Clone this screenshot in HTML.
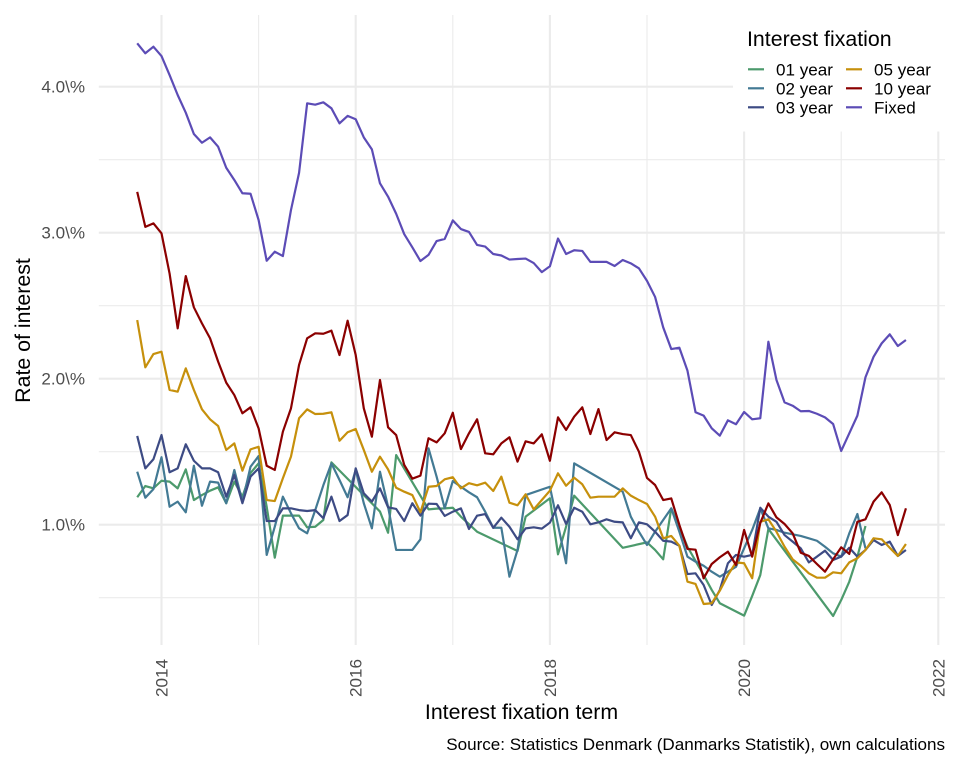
<!DOCTYPE html>
<html lang="en">
<head>
<meta charset="utf-8">
<title>Rate of interest by interest fixation</title>
<style>
html,body{margin:0;padding:0;background:#fff;}
#chart{display:block;width:960px;height:768px;font-family:"Liberation Sans",Arial,sans-serif;}
.grid-major{stroke:#ebebeb;stroke-width:2.1;}
.grid-minor{stroke:#ebebeb;stroke-width:1.05;}
.tick{fill:#4d4d4d;font-size:17.07px;}
.series{fill:none;stroke-width:2.2;stroke-linejoin:round;stroke-linecap:butt;}
.legend-label{fill:#000;font-size:17.07px;}
</style>
</head>
<body>
<svg id="chart" xmlns="http://www.w3.org/2000/svg" width="960" height="768" viewBox="0 0 960 768">
  <g id="grid"></g>
  <g id="series"></g>
  <g id="y-ticks"></g>
  <g id="x-ticks"></g>
  <text transform="translate(30,330.5) rotate(-90)" text-anchor="middle" font-size="21.33" fill="#000">Rate of interest</text>
  <text x="521.5" y="719" text-anchor="middle" font-size="21.33" fill="#000">Interest fixation term</text>
  <text x="945" y="750" text-anchor="end" font-size="17.07" fill="#000">Source: Statistics Denmark (Danmarks Statistik), own calculations</text>
  <g id="legend">
    <rect x="733" y="15" width="212" height="116.5" fill="#fff"></rect>
    <text x="747" y="46" font-size="21.33" fill="#000">Interest fixation</text>
  </g>
</svg>
<script>
// Month index 0 = Oct 2013, one value per month (null = no observation).
var startYear = 2013.75;
var seriesNames = ["01 year", "02 year", "03 year", "05 year", "10 year", "Fixed"];
var seriesColors = ["#4c9a6c", "#437a94", "#3d4b84", "#c6900c", "#8b0000", "#5c4cb6"];

var oneYear = [1.188,1.265,1.249,1.301,1.295,1.249,1.379,1.169,1.203,1.233,
  1.256,1.147,1.295,1.192,1.354,1.42,1.123,0.774,1.062,1.062,
  1.062,0.982,0.986,1.032,1.427,null,null,null,null,null,
  1.09,0.945,1.477,null,null,null,1.105,1.11,1.112,1.116,
  1.055,null,0.952,null,null,null,null,0.82,1.055,null,
  null,1.181,0.797,0.986,1.199,null,null,null,null,null,
  0.842,null,null,0.879,0.827,0.763,1.112,0.986,0.849,null,
  0.655,0.553,0.462,null,null,0.377,0.512,0.655,0.971,null,
  null,null,null,null,null,null,0.375,0.484,0.61,0.781,
  0.991,null,null,null,null,null];

var twoYear = [1.363,1.185,1.244,1.462,1.123,1.158,1.085,1.404,1.13,1.295,
  1.288,1.147,1.375,1.158,1.397,1.47,0.793,0.986,1.192,1.078,
  0.975,0.941,1.1,1.27,1.42,1.306,1.188,1.375,1.147,0.975,
  1.363,1.123,0.827,0.827,0.827,0.9,1.523,1.329,1.112,1.299,
  1.26,1.222,1.188,1.089,0.979,0.979,0.644,0.827,1.203,null,
  null,1.26,0.998,0.736,1.42,null,null,null,null,null,
  1.226,1.055,0.952,0.861,0.952,1.032,1.112,0.952,0.781,0.747,
  0.719,0.678,0.644,0.678,0.712,0.838,0.964,1.112,0.975,0.964,
  0.945,0.934,0.923,0.907,0.89,0.849,0.804,0.781,0.941,1.073,
  0.838,null,null,null,null,null];

var threeYear = [1.608,1.386,1.448,1.614,1.359,1.386,1.551,1.438,1.386,1.386,
  1.359,1.192,1.34,1.147,1.329,1.386,1.025,1.025,1.112,1.112,
  1.1,1.094,1.1,1.044,1.192,1.025,1.066,1.386,1.215,1.158,
  1.249,1.119,1.108,1.025,1.147,1.062,1.144,1.142,1.06,1.089,
  1.112,0.971,1.062,1.073,0.979,1.048,0.986,0.9,0.975,0.982,
  0.973,1.014,1.133,1.005,1.116,1.089,1.003,1.016,1.037,1.02,
  1.016,0.907,1.016,1.003,0.952,0.89,0.884,0.856,0.662,0.667,
  0.587,0.45,0.553,0.736,0.793,0.781,0.793,1.116,1.055,1.02,
  0.929,0.884,0.838,0.742,0.781,0.822,0.758,0.781,0.842,0.781,
  0.827,0.895,0.861,0.884,0.786,0.827];

var fiveYear = [2.402,2.078,2.169,2.185,1.923,1.911,2.071,1.923,1.79,1.722,
  1.676,1.512,1.557,1.37,1.516,1.534,1.169,1.162,1.318,1.466,
  1.729,1.79,1.758,1.76,1.77,1.575,1.633,1.655,1.512,1.363,
  1.466,1.379,1.253,1.226,1.203,1.085,1.26,1.265,1.311,1.325,
  1.249,1.284,1.27,1.288,1.231,1.329,1.151,1.133,1.208,1.105,
  1.169,1.233,1.352,1.267,1.322,1.277,1.185,1.192,1.192,1.192,
  1.249,1.199,1.169,1.142,1.055,0.907,0.923,0.856,0.61,0.594,
  0.457,0.462,0.548,0.655,0.742,0.736,0.633,1.02,1.037,0.952,
  0.849,0.763,0.719,0.667,0.637,0.637,0.674,0.667,0.742,0.77,
  0.827,0.907,0.9,0.842,0.786,0.868];

var tenYear = [3.28,3.04,3.064,2.996,2.72,2.345,2.703,2.489,2.379,2.277,
  2.117,1.973,1.888,1.763,1.804,1.66,1.404,1.375,1.637,1.797,
  2.094,2.277,2.311,2.308,2.329,2.162,2.397,2.162,1.797,1.603,
  1.991,1.667,1.614,1.409,1.315,1.336,1.592,1.564,1.626,1.767,
  1.518,1.626,1.722,1.489,1.482,1.557,1.599,1.432,1.571,1.557,
  1.619,1.438,1.735,1.649,1.74,1.804,1.621,1.792,1.58,1.633,
  1.621,1.614,1.5,1.32,1.272,1.169,1.18,0.998,0.834,0.829,
  0.633,0.731,0.777,0.815,0.724,0.964,0.781,1.012,1.146,1.05,
  1.005,0.941,0.808,0.786,0.731,0.678,0.763,0.845,0.8,1.02,
  1.037,1.158,1.222,1.135,0.929,1.112];

var fixedRate = [4.297,4.229,4.274,4.21,4.08,3.943,3.822,3.676,3.616,3.653,
  3.589,3.445,3.361,3.27,3.267,3.087,2.808,2.87,2.84,3.155,
  3.41,3.886,3.877,3.893,3.852,3.749,3.8,3.777,3.653,3.571,
  3.338,3.247,3.13,2.99,2.9,2.806,2.848,2.943,2.957,3.084,
  3.025,3.005,2.916,2.905,2.854,2.844,2.816,2.82,2.823,2.792,
  2.73,2.77,2.96,2.854,2.88,2.875,2.8,2.8,2.8,2.772,
  2.813,2.79,2.756,2.67,2.56,2.352,2.203,2.212,2.055,1.77,
  1.747,1.66,1.61,1.715,1.688,1.772,1.722,1.729,2.253,1.991,
  1.838,1.815,1.777,1.779,1.76,1.735,1.69,1.505,1.626,1.747,
  2.01,2.15,2.242,2.304,2.224,2.265];

var yMajorTicks = [1, 2, 3, 4];
var yMinorTicks = [0.5, 1.5, 2.5, 3.5];
var yTickLabels = ["1.0\\%", "2.0\\%", "3.0\\%", "4.0\\%"];
var xMajorTicks = [2014, 2016, 2018, 2020, 2022];
var xMinorTicks = [2015, 2017, 2019, 2021];

var allSeries = [oneYear, twoYear, threeYear, fiveYear, tenYear, fixedRate];

var SVGNS = "http://www.w3.org/2000/svg";
function xScale(year) { return 161.5 + (year - 2014) * 97.1; }
function yScale(pct) { return 524.7 - (pct - 1) * 146; }
var panel = { left: 98.8, right: 945, top: 15, bottom: 645 };

function make(tag, parent, attrs) {
  var el = document.createElementNS(SVGNS, tag);
  for (var k in attrs) { el.setAttribute(k, attrs[k]); }
  parent.appendChild(el);
  return el;
}

var gridG = document.getElementById("grid");
yMinorTicks.forEach(function (v) {
  var el = make("line", gridG, { x1: panel.left, x2: panel.right, y1: yScale(v), y2: yScale(v), "class": "grid-minor" });
  
  
});
xMinorTicks.forEach(function (v) {
  var el = make("line", gridG, { x1: xScale(v), x2: xScale(v), y1: panel.top, y2: panel.bottom, "class": "grid-minor" });
  
  
});
yMajorTicks.forEach(function (v) {
  var el = make("line", gridG, { x1: panel.left, x2: panel.right, y1: yScale(v), y2: yScale(v), "class": "grid-major" });
  
  
});
xMajorTicks.forEach(function (v) {
  var el = make("line", gridG, { x1: xScale(v), x2: xScale(v), y1: panel.top, y2: panel.bottom, "class": "grid-major" });
  
  
});

var seriesG = document.getElementById("series");
allSeries.forEach(function (values, s) {
  var pts = [];
  values.forEach(function (v, i) {
    if (v !== null) { pts.push(xScale(startYear + i / 12).toFixed(2) + "," + yScale(v).toFixed(2)); }
  });
  var el = make("polyline", seriesG, { points: pts.join(" "), stroke: seriesColors[s], "class": "series" });
  
  
});

var yG = document.getElementById("y-ticks");
yMajorTicks.forEach(function (v, i) {
  var el = make("text", yG, { x: 85, y: yScale(v) + 6, "text-anchor": "end", "class": "tick" });
  el.textContent = yTickLabels[i];
  
  
});

var xG = document.getElementById("x-ticks");
xMajorTicks.forEach(function (v) {
  var el = make("text", xG, { transform: "translate(" + (xScale(v) + 6) + ",659) rotate(-90)", "text-anchor": "end", "class": "tick" });
  el.textContent = String(v);
  
  
});

var legendG = document.getElementById("legend");
seriesNames.forEach(function (name, i) {
  var col = i < 3 ? 0 : 1;
  var row = i % 3;
  var kx = col === 0 ? 748 : 846;
  var ky = 69.3 + row * 19;
  var key = make("line", legendG, { x1: kx, x2: kx + 16, y1: ky, y2: ky, stroke: seriesColors[i], "stroke-width": 2.2 });
  
  
  var label = make("text", legendG, { x: col === 0 ? 776 : 874, y: ky + 6.2, "class": "legend-label" });
  label.textContent = name;
  
  
});
</script>
</body>
</html>
